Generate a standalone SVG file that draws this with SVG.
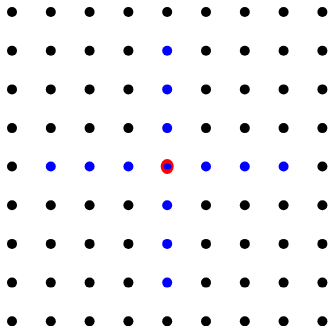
<svg xmlns="http://www.w3.org/2000/svg" width="329" height="326" viewBox="0 0 329 326">
<style>
.k{fill:#000}
.b{fill:#0000ff}
</style>
<defs>
<circle id="d" r="5"/>
</defs>
<rect width="329" height="326" fill="#fff"/>
<g id="grid">
<g id="row0" class="k" transform="translate(0,12)">
<use href="#d" x="12"/><use href="#d" x="50.8"/><use href="#d" x="89.6"/><use href="#d" x="128.4"/><use href="#d" x="167.2"/><use href="#d" x="206"/><use href="#d" x="244.8"/><use href="#d" x="283.6"/><use href="#d" x="322.4"/>
</g>
<g id="row1" transform="translate(0,50.7)">
<g class="k"><use href="#d" x="12"/><use href="#d" x="50.8"/><use href="#d" x="89.6"/><use href="#d" x="128.4"/><use href="#d" x="206"/><use href="#d" x="244.8"/><use href="#d" x="283.6"/><use href="#d" x="322.4"/></g>
<use href="#d" x="167.2" class="b"/>
</g>
<g id="row2" transform="translate(0,89.4)">
<g class="k"><use href="#d" x="12"/><use href="#d" x="50.8"/><use href="#d" x="89.6"/><use href="#d" x="128.4"/><use href="#d" x="206"/><use href="#d" x="244.8"/><use href="#d" x="283.6"/><use href="#d" x="322.4"/></g>
<use href="#d" x="167.2" class="b"/>
</g>
<g id="row3" transform="translate(0,128.1)">
<g class="k"><use href="#d" x="12"/><use href="#d" x="50.8"/><use href="#d" x="89.6"/><use href="#d" x="128.4"/><use href="#d" x="206"/><use href="#d" x="244.8"/><use href="#d" x="283.6"/><use href="#d" x="322.4"/></g>
<use href="#d" x="167.2" class="b"/>
</g>
<g id="row4" transform="translate(0,166.5)">
<g class="k"><use href="#d" x="12"/><use href="#d" x="322.4"/></g>
<g class="b"><use href="#d" x="50.8"/><use href="#d" x="89.6"/><use href="#d" x="128.4"/><use href="#d" x="206"/><use href="#d" x="244.8"/><use href="#d" x="283.6"/></g>
<ellipse id="center" cx="167.2" cy="0" rx="6.5" ry="7.5" fill="#ff0000"/>
<ellipse cx="167.5" cy="0" rx="4" ry="3" class="b"/>
</g>
<g id="row5" transform="translate(0,205.2)">
<g class="k"><use href="#d" x="12"/><use href="#d" x="50.8"/><use href="#d" x="89.6"/><use href="#d" x="128.4"/><use href="#d" x="206"/><use href="#d" x="244.8"/><use href="#d" x="283.6"/><use href="#d" x="322.4"/></g>
<use href="#d" x="167.2" class="b"/>
</g>
<g id="row6" transform="translate(0,243.9)">
<g class="k"><use href="#d" x="12"/><use href="#d" x="50.8"/><use href="#d" x="89.6"/><use href="#d" x="128.4"/><use href="#d" x="206"/><use href="#d" x="244.8"/><use href="#d" x="283.6"/><use href="#d" x="322.4"/></g>
<use href="#d" x="167.2" class="b"/>
</g>
<g id="row7" transform="translate(0,282.6)">
<g class="k"><use href="#d" x="12"/><use href="#d" x="50.8"/><use href="#d" x="89.6"/><use href="#d" x="128.4"/><use href="#d" x="206"/><use href="#d" x="244.8"/><use href="#d" x="283.6"/><use href="#d" x="322.4"/></g>
<use href="#d" x="167.2" class="b"/>
</g>
<g id="row8" class="k" transform="translate(0,321.3)">
<use href="#d" x="12"/><use href="#d" x="50.8"/><use href="#d" x="89.6"/><use href="#d" x="128.4"/><use href="#d" x="167.2"/><use href="#d" x="206"/><use href="#d" x="244.8"/><use href="#d" x="283.6"/><use href="#d" x="322.4"/>
</g>
</g>
</svg>
